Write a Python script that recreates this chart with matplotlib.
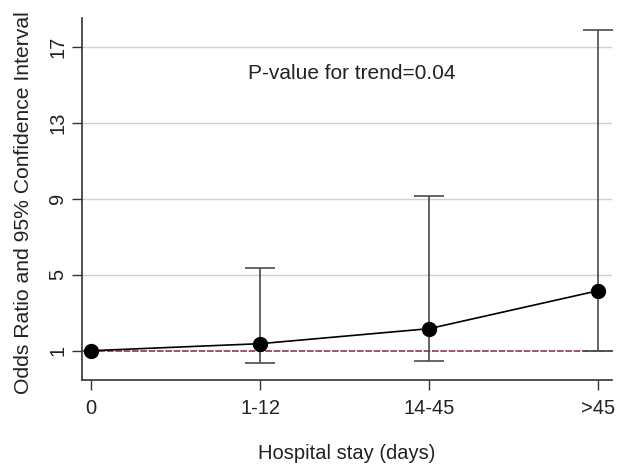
import matplotlib
matplotlib.use("Agg")
import matplotlib.pyplot as plt
import numpy as np

plt.rcParams['font.family'] = ['Liberation Sans', 'DejaVu Sans']

categories = ["0", "1-12", "14-45", ">45"]
odds_ratio = [1.0, 1.37, 2.16, 4.16]
ci_lower = [1.0, 0.37, 0.47, 1.0]
ci_upper = [1.0, 5.37, 9.16, 17.9]
yticks = [1, 5, 9, 13, 17]

fig = plt.figure(figsize=(6.21, 4.66), dpi=100)
ax = fig.add_axes([0.132, 0.185, 0.853, 0.776])
x = np.arange(len(categories))

for yt in yticks[1:]:
    ax.axhline(yt, color='#d0d0d0', lw=1, zorder=0)
ax.axhline(1, color='#8a3a50', lw=1.2, ls=(0, (4, 1)), zorder=1)

odds = np.array(odds_ratio)
lo = odds - np.array(ci_lower)
hi = np.array(ci_upper) - odds
for i in range(1, len(x)):
    ax.errorbar(x[i], odds[i], yerr=[[lo[i]], [hi[i]]], fmt='none',
                ecolor='#4a4a4a', elinewidth=1.2, capsize=11, capthick=1.2, zorder=2)
ax.plot(x, odds, color='black', lw=1.2, marker='o', markersize=10, zorder=3)

ax.text(0.93, 15.6, "P-value for trend=0.04", fontsize=15, va='center', ha='left',
        color='#222222')

ax.set_xlim(-0.053, 3.08)
ax.set_ylim(-0.53, 18.5)
ax.set_xticks(x)
ax.set_xticklabels(categories, fontsize=14.5, color='#222222')
ax.set_yticks(yticks)
ax.set_yticklabels([str(v) for v in yticks], fontsize=14.5, rotation=90, va='center',
                   color='#222222')
ax.tick_params(axis='y', direction='out', length=7, width=1, color='#333333', pad=3.5)
ax.tick_params(axis='x', direction='out', length=7, width=1, color='#333333', pad=7)
for s in ['top', 'right']:
    ax.spines[s].set_visible(False)
for s in ['left', 'bottom']:
    ax.spines[s].set_color('#333333')
    ax.spines[s].set_linewidth(1.2)
ax.set_xlabel("Hospital stay (days)", fontsize=14.5, labelpad=18.5, color='#222222')
ax.set_ylabel("Odds Ratio and 95% Confidence Interval", fontsize=15.2, color='#222222')
ax.yaxis.set_label_coords(-0.092, 0.489)

fig.savefig("out.png", dpi=100)
